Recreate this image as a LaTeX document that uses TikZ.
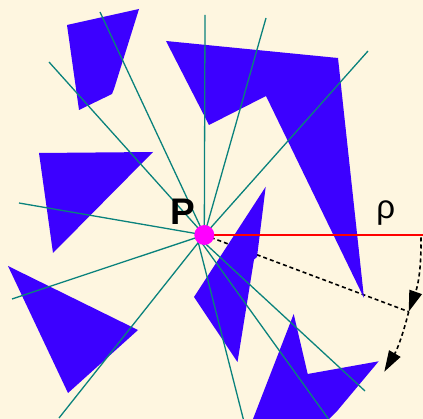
\documentclass[tikz,border=0pt]{standalone}
\usepackage{fontspec}
\setmainfont{Liberation Sans}
\usetikzlibrary{arrows.meta,shapes.geometric}
\definecolor{bgcream}{RGB}{254,246,224}
\definecolor{polyblue}{RGB}{60,0,255}
\definecolor{rayteal}{RGB}{10,130,124}
\definecolor{ptmag}{RGB}{255,0,255}
\definecolor{rhored}{RGB}{255,0,0}
\tikzset{
  poly/.style={fill=polyblue, draw=none},
  ray/.style={draw=rayteal, line width=1.3pt},
  rholine/.style={draw=rhored, line width=2.8pt},
  dashline/.style={draw=black, line width=1.6pt, dash pattern=on 4pt off 3pt},
  rotarrow/.style={dashline, -{Triangle[length=21pt,width=13pt]}},
  lbl/.style={inner sep=0pt, anchor=base}
}
\begin{document}
\begin{tikzpicture}[x=1pt,y=-1pt]
\useasboundingbox (0,0) rectangle (423,419);
\fill[bgcream] (0,0) rectangle (423,419);
% key points
\coordinate (Pc) at (204.3,235);
\coordinate (Q) at (196.5,235.5);
\coordinate (R) at (423,235);
\coordinate (Rs) at (421,237.5);
\coordinate (A) at (408.7,311.7);
\coordinate (B) at (384.3,371.7);
% dashed rotated radius (under polygons)
\draw[dashline] (Pc) -- (A);
% polygons
\fill[poly] (67,25) -- (139,9) -- (114,89) -- (112,94) -- (79,110) -- cycle;
\fill[poly] (166,41) -- (338,58) -- (364,298) -- (266,96) -- (209,125) -- cycle;
\fill[poly] (39,153) -- (153,152) -- (53,253) -- cycle;
\fill[poly] (8,266) -- (138,330) -- (68,393) -- cycle;
\fill[poly] (265.7,186.7) -- (257,257) -- (254,259.5) -- (237.5,362) -- (194,297) -- cycle;
\fill[poly] (293.7,314) -- (307.7,374) -- (378.7,361.3) -- (337.5,410.5) -- (329,419) -- (253,419) -- cycle;
% ray end points
\coordinate (r1) at (100,12);
\coordinate (r2) at (49,62);
\coordinate (r3) at (205,15);
\coordinate (r4) at (266,18);
\coordinate (r5) at (368,51);
\coordinate (r6) at (19,203);
\coordinate (r7) at (12,299);
\coordinate (r8) at (59,418);
\coordinate (r9) at (243.3,419);
\coordinate (r10) at (328.5,419);
\coordinate (r11) at (365,391);
% rays
\foreach \e in {r1,r2,r3,r4,r5,r6,r7,r8}{\draw[ray] (Pc) -- (\e);}
\foreach \e in {r9,r10,r11}{\draw[ray] (Q) -- (\e);}
% red radius
\draw[rholine] (Pc) -- (R);
% rotation arrows
\draw[rotarrow] (Rs) to[bend left=10] (A);
\draw[rotarrow] (A) to[bend left=8] (B);
% point P
\node[circle, fill=ptmag, minimum size=20pt, inner sep=0pt] (P) at (Pc) {};
% labels
\node[lbl, font=\bfseries\fontsize{37}{37}\selectfont] (lp) at (183.3,224.3) {P};
\node[lbl, font=\fontsize{33}{33}\selectfont] (lrho) at (385.8,219) {ρ};
\end{tikzpicture}
\end{document}
